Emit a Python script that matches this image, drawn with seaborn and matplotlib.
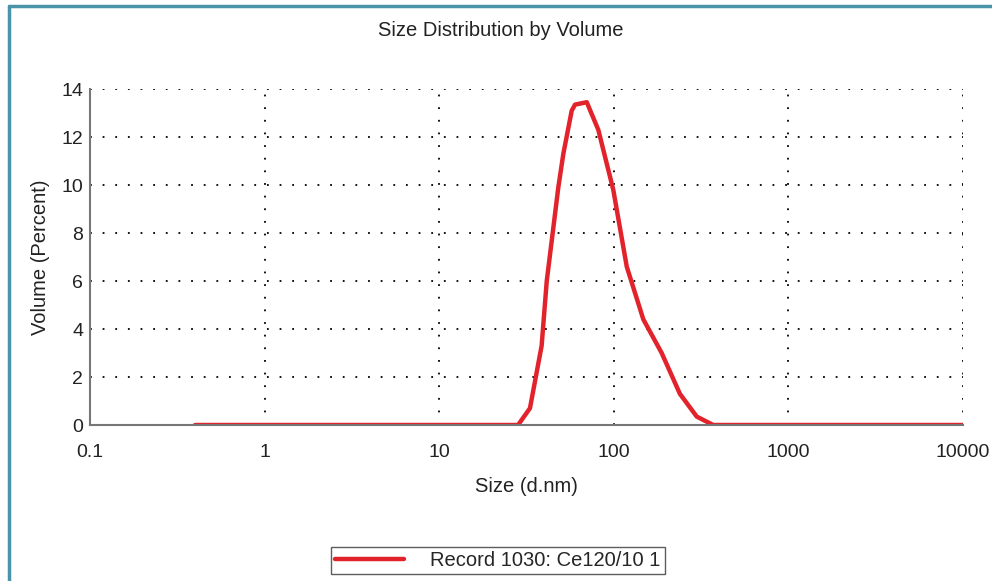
import matplotlib.pyplot as plt
import matplotlib.ticker as mticker
import pandas as pd
import seaborn as sns
import numpy as np

# values
sizes = [0.4, 1, 10, 28.3, 33.1, 38.6, 41.3, 48.1, 51.4, 57.4, 60, 70, 81.5,
         99.3, 118.6, 147.6, 188, 239, 298.5, 371, 1000, 10000]
volume = [0, 0, 0, 0, 0.7, 3.3, 6.0, 9.9, 11.3, 13.1, 13.35, 13.45, 12.3,
          9.8, 6.6, 4.4, 3.0, 1.3, 0.35, 0, 0, 0]
record_label = "Record 1030: Ce120/10 1"
x_ticks = [0.1, 1, 10, 100, 1000, 10000]
x_tick_labels = ["0.1", "1", "10", "100", "1000", "10000"]
y_ticks = [0, 2, 4, 6, 8, 10, 12, 14]

sns.set_style("white")
plt.rcParams['font.family'] = ['Liberation Sans', 'DejaVu Sans']

df = pd.DataFrame({"size": sizes, "volume": volume, "record": record_label})

fig = plt.figure(figsize=(9.92, 5.81), dpi=100)
ax = fig.add_axes([0.0907, 0.2685, 0.8801, 0.5783])

red = "#e2232b"
sns.lineplot(data=df, x="size", y="volume", hue="record", palette=[red],
             linewidth=3.2, ax=ax, legend=False)

ax.set_xscale("log")
ax.set_xlim(0.1, 10000)
ax.set_ylim(0, 14)
ax.set_xticks(x_ticks)
ax.set_xticklabels(x_tick_labels)
ax.set_yticks(y_ticks)
ax.xaxis.set_minor_locator(mticker.LogLocator(base=10, subs=np.arange(2, 10)))
ax.xaxis.set_minor_formatter(mticker.NullFormatter())
ax.yaxis.set_minor_locator(mticker.MultipleLocator(1))

ax.grid(True, which="major", color="black", linestyle=(0, (1, 6)), linewidth=1.3)
ax.set_axisbelow(True)

for s in ["top", "right"]:
    ax.spines[s].set_visible(False)
for s in ["left", "bottom"]:
    ax.spines[s].set_color("#777777")
    ax.spines[s].set_linewidth(1.5)

ax.tick_params(which="major", direction="inout", length=6, width=1.2,
               color="#555555", labelsize=14, labelcolor="#222222", pad=2)
ax.tick_params(which="minor", direction="inout", length=7, width=1.0,
               color="#666666")
ax.tick_params(axis="x", which="major", pad=11)

ax.set_xlabel("Size (d.nm)", fontsize=14.5, color="#222222", labelpad=11)
ax.set_ylabel("Volume (Percent)", fontsize=14.5, color="#222222", labelpad=8)
fig.text(0.505, 0.948, "Size Distribution by Volume", ha="center", va="center",
         fontsize=14.5, color="#222222")

handle = plt.Line2D([], [], color=red, linewidth=3.2)
leg = fig.legend([handle], [record_label], loc="center", bbox_to_anchor=(0.502, 0.036),
                 frameon=True, fancybox=False, fontsize=14.5, handlelength=3.4,
                 handletextpad=1.3, borderpad=0.2, borderaxespad=0)
leg.get_frame().set_edgecolor("#333333")
leg.get_frame().set_linewidth(1.0)

# teal border along the left and top of the picture
border = "#4a93a8"
fig.add_artist(plt.Line2D([0.009, 0.009], [0, 0.989], transform=fig.transFigure,
                          color=border, linewidth=2.5))
fig.add_artist(plt.Line2D([0.009, 1], [0.989, 0.989], transform=fig.transFigure,
                          color=border, linewidth=2.5))

fig.savefig("out.png", dpi=100)
